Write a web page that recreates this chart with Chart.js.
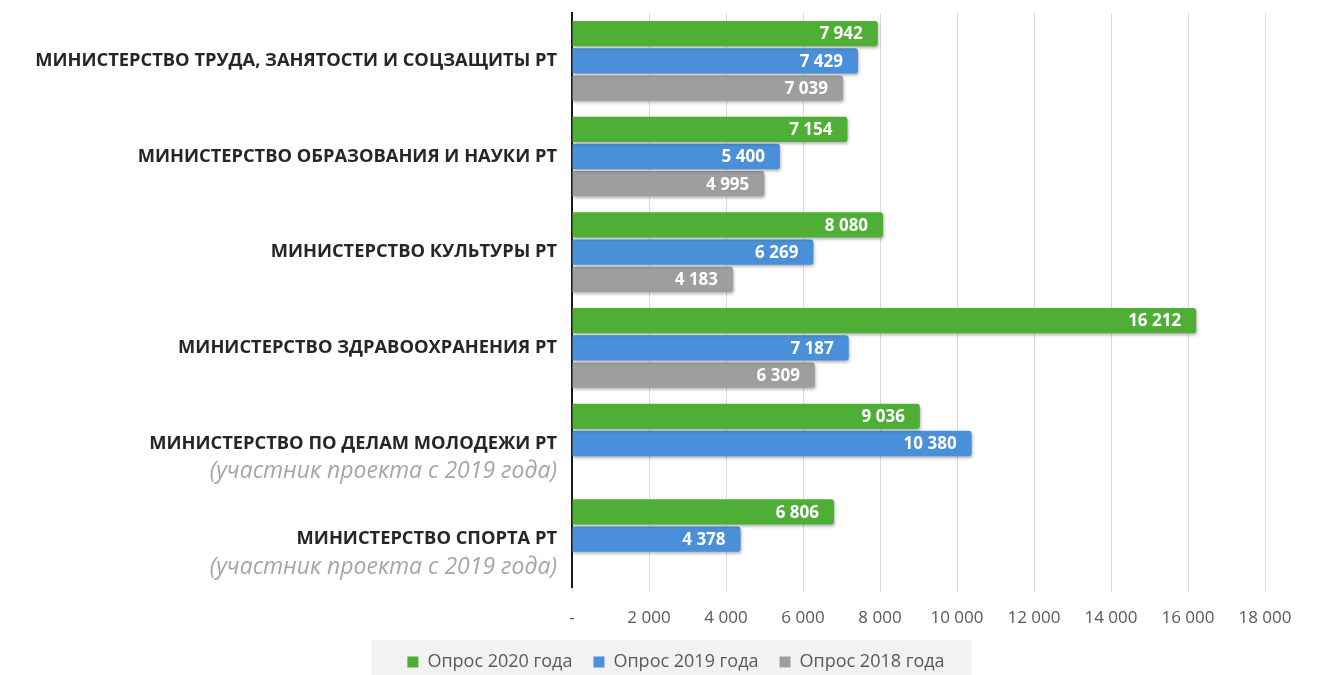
<!DOCTYPE html>
<html>
<head>
<meta charset="utf-8">
<script src="https://cdn.jsdelivr.net/npm/chart.js@4"></script>
<style>
html,body{margin:0;padding:0;background:#fff;overflow:hidden;}
#wrap{width:1326px;height:675px;position:relative;}
</style>
</head>
<body>
<div id="wrap"><canvas id="c" width="1326" height="675"></canvas></div>
<script>
const categories = [
  'МИНИСТЕРСТВО ТРУДА, ЗАНЯТОСТИ И СОЦЗАЩИТЫ РТ',
  'МИНИСТЕРСТВО ОБРАЗОВАНИЯ И НАУКИ РТ',
  'МИНИСТЕРСТВО КУЛЬТУРЫ РТ',
  'МИНИСТЕРСТВО ЗДРАВООХРАНЕНИЯ РТ',
  'МИНИСТЕРСТВО ПО ДЕЛАМ МОЛОДЕЖИ РТ',
  'МИНИСТЕРСТВО СПОРТА РТ'
];
const subLabels = ['', '', '', '', '(участник проекта с 2019 года)', '(участник проекта с 2019 года)'];
const seriesNames = ['Опрос 2020 года', 'Опрос 2019 года', 'Опрос 2018 года'];
const values2020 = [7942, 7154, 8080, 16212, 9036, 6806];
const values2019 = [7429, 5400, 6269, 7187, 10380, 4378];
const values2018 = [7039, 4995, 4183, 6309, null, null];
const xMax = 18000;
const xStep = 2000;

const colors = ['#4eae36', '#4a8fd9', '#9e9e9e'];

function fmt(v){
  if (v === 0) return '-';
  return String(Math.round(v)).replace(/\B(?=(\d{3})+(?!\d))/g, ' ');
}

const yLabelPlugin = {
  id: 'yLabels',
  afterDraw(chart){
    const ctx = chart.ctx;
    const ys = chart.scales.y;
    const xr = chart.chartArea.left - 15;
    ctx.save();
    ctx.textAlign = 'right';
    ctx.textBaseline = 'middle';
    categories.forEach((c, i) => {
      const y = ys.getPixelForValue(i);
      ctx.fillStyle = '#262626';
      ctx.font = 'bold 18.3px "Open Sans"';
      ctx.fillText(c, xr, y);
      if (subLabels[i]) {
        ctx.fillStyle = '#a6a6a6';
        ctx.font = 'italic 23px "Open Sans"';
        ctx.fillText(subLabels[i], xr, y + 28);
      }
    });
    ctx.restore();
  }
};

const shadowPlugin = {
  id: 'barShadow',
  beforeDatasetsDraw(chart){
    const ctx = chart.ctx;
    ctx.save();
    ctx.shadowColor = 'rgba(0,0,0,0.28)';
    ctx.shadowBlur = 3;
    ctx.shadowOffsetX = 1;
    ctx.shadowOffsetY = 2;
  },
  afterDatasetsDraw(chart){
    chart.ctx.restore();
  }
};

const valueLabelPlugin = {
  id: 'valueLabels',
  afterDatasetsDraw(chart){
    const ctx = chart.ctx;
    ctx.save();
    ctx.textAlign = 'right';
    ctx.textBaseline = 'middle';
    ctx.font = 'bold 17px "Open Sans"';
    ctx.fillStyle = '#ffffff';
    chart.data.datasets.forEach((ds, di) => {
      const meta = chart.getDatasetMeta(di);
      meta.data.forEach((el, i) => {
        const v = ds.data[i];
        if (v === null || v === undefined) return;
        ctx.fillText(fmt(v), el.x - 15, el.y + 1);
      });
    });
    ctx.restore();
  }
};

const legendBgPlugin = {
  id: 'legendBg',
  beforeDraw(chart){
    const lg = chart.legend;
    if (!lg || !lg.legendHitBoxes || !lg.legendHitBoxes.length) return;
    const boxes = lg.legendHitBoxes;
    const l = Math.min(...boxes.map(b => b.left)) - 36;
    const r = Math.max(...boxes.map(b => b.left + b.width)) + 27;
    const t = boxes[0].top - 13;
    const ctx = chart.ctx;
    ctx.save();
    ctx.fillStyle = '#f2f2f2';
    ctx.fillRect(l, t, r - l, chart.height - t);
    ctx.restore();
  }
};

new Chart(document.getElementById('c'), {
  type: 'bar',
  data: {
    labels: categories,
    datasets: [
      { label: seriesNames[0], data: values2020, backgroundColor: colors[0], borderRadius: 3, borderSkipped: 'start' },
      { label: seriesNames[1], data: values2019, backgroundColor: colors[1], borderRadius: 3, borderSkipped: 'start' },
      { label: seriesNames[2], data: values2018, backgroundColor: colors[2], borderRadius: 3, borderSkipped: 'start' }
    ]
  },
  options: {
    indexAxis: 'y',
    responsive: false,
    animation: false,
    devicePixelRatio: 1,
    layout: { padding: { top: 13, right: 61, left: 87, bottom: -6 } },
    datasets: { bar: { categoryPercentage: 0.853, barPercentage: 0.93 } },
    scales: {
      x: {
        min: 0, max: xMax,
        ticks: {
          stepSize: xStep,
          callback: v => fmt(v),
          color: '#595959',
          font: { family: '"Open Sans"', size: 17 },
          padding: 16
        },
        grid: { color: '#d9d9d9', lineWidth: 1, tickLength: 5, drawTicks: true },
        border: { display: false },
        afterFit: s => { s.height = 45; }
      },
      y: {
        ticks: { display: false },
        grid: { display: false },
        border: { color: '#1a1a1a', width: 2 },
        afterFit: s => { s.width = 485; }
      }
    },
    plugins: {
      tooltip: { enabled: false },
      legend: {
        position: 'bottom',
        labels: {
          boxWidth: 11, boxHeight: 11,
          color: '#595959',
          font: { family: '"Open Sans"', size: 18 },
          padding: 21
        }
      }
    }
  },
  plugins: [legendBgPlugin, shadowPlugin, yLabelPlugin, valueLabelPlugin]
});
</script>
</body>
</html>
